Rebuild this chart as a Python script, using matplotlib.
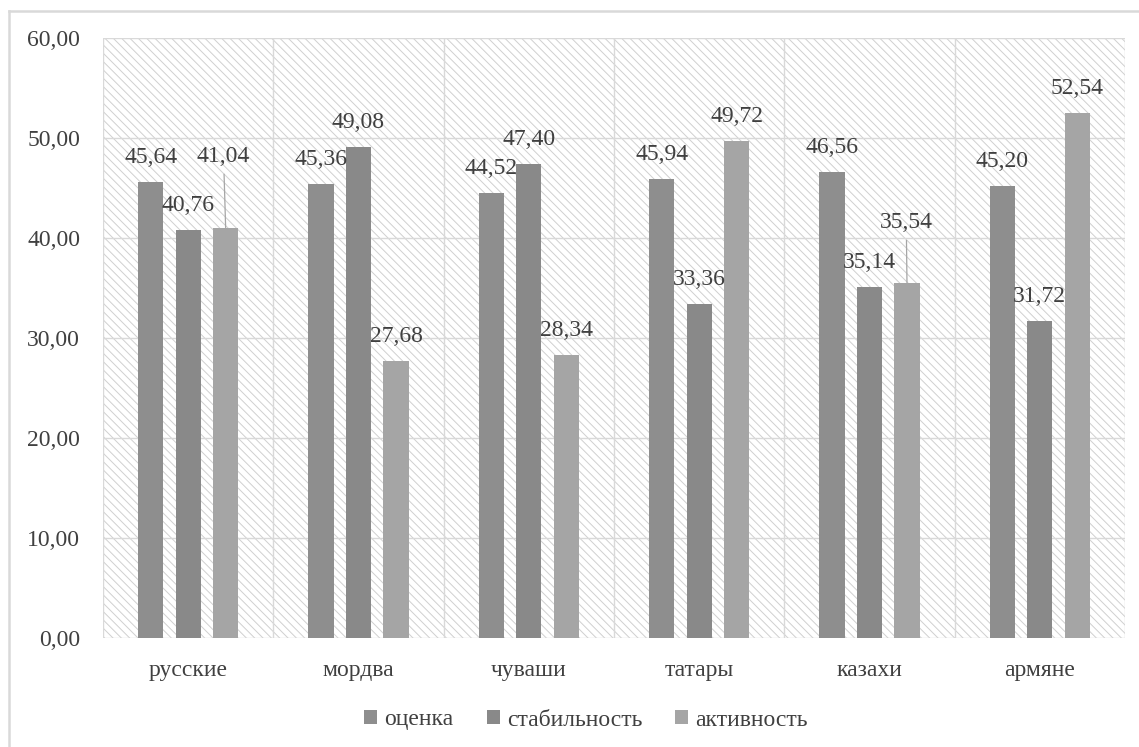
import numpy as np
import matplotlib
matplotlib.use('Agg')
import matplotlib.pyplot as plt
from matplotlib.patches import Rectangle, Patch
from matplotlib.lines import Line2D

# Data
categories = ['русские', 'мордва', 'чуваши', 'татары', 'казахи', 'армяне']
series_names = ['оценка', 'стабильность', 'активность']
otsenka = [45.64, 45.36, 44.52, 45.94, 46.56, 45.20]
stabilnost = [40.76, 49.08, 47.40, 33.36, 35.14, 31.72]
aktivnost = [41.04, 27.68, 28.34, 49.72, 35.54, 52.54]
y_ticks = [0, 10, 20, 30, 40, 50, 60]

series = [otsenka, stabilnost, aktivnost]
colors = ['#8e8e8e', '#898989', '#a5a5a5']
offsets = [-0.22, 0.0, 0.22]
bar_w = 0.148

# labels moved up with a leader line: (series, category) -> offset in points
moved = {(2, 0): (-1.5, 51), (2, 4): (-0.5, 43)}

FONT = 'Liberation Serif'
plt.rcParams['font.family'] = FONT
plt.rcParams['hatch.linewidth'] = 0.7
TXT = '#404040'
GRID = '#d9d9d9'
FS = 17

fig = plt.figure(figsize=(11.39, 7.47), dpi=100)
ax = fig.add_axes([103 / 1139, 109 / 747, 1022 / 1139, 600 / 747])

# hatched background of the plot area
bg = Rectangle((0, 0), 1, 1, transform=ax.transAxes, facecolor='white',
               edgecolor='#d0d0d0', hatch='\\\\\\\\', linewidth=0, zorder=0)
ax.add_patch(bg)
ax.patch.set_visible(False)

x = np.arange(len(categories))
for i, vals in enumerate(series):
    bars = ax.bar(x + offsets[i], vals, width=bar_w, color=colors[i],
                  zorder=3, label=series_names[i])
    for j, (b, v) in enumerate(zip(bars, vals)):
        cx = b.get_x() + b.get_width() / 2
        txt = f'{v:.2f}'.replace('.', ',')
        if (i, j) in moved:
            dx, dy = moved[(i, j)]
            ax.annotate(txt, xy=(cx, v), xytext=(dx, dy),
                        textcoords='offset points', ha='center', va='center',
                        fontsize=FS, family=FONT, color=TXT, zorder=5,
                        arrowprops=dict(arrowstyle='-', color='#a6a6a6',
                                        lw=0.9, shrinkA=3, shrinkB=0))
        else:
            ax.annotate(txt, xy=(cx, v), xytext=(0, 17.6),
                        textcoords='offset points', ha='center', va='center',
                        fontsize=FS, family=FONT, color=TXT, zorder=5)

# grid: horizontal values and vertical category separators
for yv in y_ticks:
    ax.axhline(yv, color=GRID, lw=1.0, zorder=1)
for xv in np.arange(-0.5, len(categories), 1.0):
    ax.axvline(xv, color=GRID, lw=1.0, zorder=1)

ax.set_xlim(-0.5, len(categories) - 0.5)
ax.set_ylim(0, 60)
ax.set_yticks(y_ticks)
ax.set_yticklabels([f'{v:.2f}'.replace('.', ',') for v in y_ticks],
                   fontsize=FS, family=FONT, color=TXT)
ax.set_xticks(x)
ax.set_xticklabels(categories, fontsize=FS, family=FONT, color=TXT)
ax.tick_params(axis='y', length=0, pad=16.5)
ax.tick_params(axis='x', length=0, pad=16)
for s in ax.spines.values():
    s.set_visible(False)

# legend
handles = [Patch(facecolor=c, edgecolor='none') for c in colors]
fig.legend(handles, series_names, loc='center', ncol=3, frameon=False,
           bbox_to_anchor=(586 / 1139, 27 / 747),
           prop={'family': FONT, 'size': FS},
           handlelength=0.55, handleheight=0.55, handletextpad=0.3,
           columnspacing=1.4, labelcolor=TXT)

# chart area border (only left and top visible in the crop)
fig.add_artist(Line2D([9 / 1139, 9 / 1139], [0, 1 - 11 / 747],
                      transform=fig.transFigure, color=GRID, lw=1.8))
fig.add_artist(Line2D([9 / 1139, 1], [1 - 11 / 747, 1 - 11 / 747],
                      transform=fig.transFigure, color=GRID, lw=1.8))

fig.savefig('out.png', dpi=100, facecolor='white')
